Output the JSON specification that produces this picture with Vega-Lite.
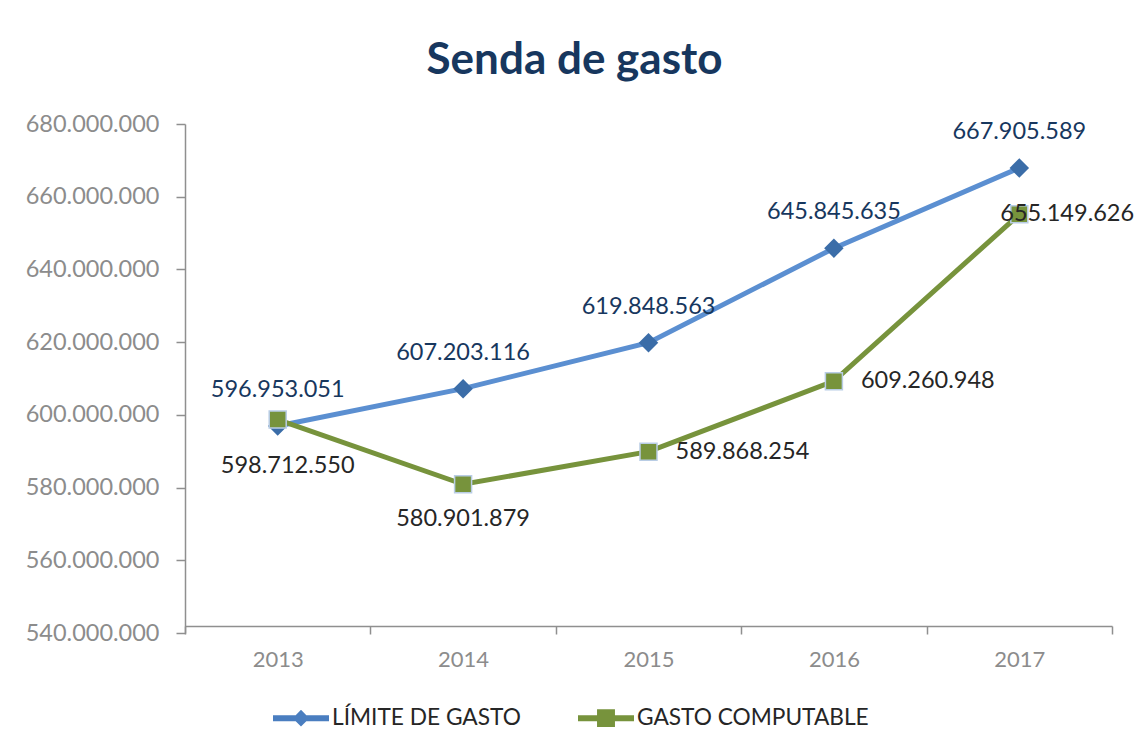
{
  "$schema": "https://vega.github.io/schema/vega-lite/v6.json",
  "autosize": "none",
  "width": 927,
  "height": 509,
  "padding": {"left": 185, "top": 124, "right": 29, "bottom": 118},
  "background": "white",
  "title": {
    "text": "Senda de gasto",
    "font": "Lato",
    "fontSize": 44,
    "fontWeight": "bold",
    "color": "#17375E",
    "anchor": "middle",
    "frame": "group",
    "dx": -74,
    "offset": 29
  },
  "config": {
    "locale": {"number": {"decimal": ",", "thousands": ".", "grouping": [3], "currency": ["", " €"]}},
    "view": {"stroke": null},
    "font": "Lato"
  },
  "data": {
    "values": [
      {"year": "2013", "serie": "LÍMITE DE GASTO", "value": 596953051},
      {"year": "2014", "serie": "LÍMITE DE GASTO", "value": 607203116},
      {"year": "2015", "serie": "LÍMITE DE GASTO", "value": 619848563},
      {"year": "2016", "serie": "LÍMITE DE GASTO", "value": 645845635},
      {"year": "2017", "serie": "LÍMITE DE GASTO", "value": 667905589},
      {"year": "2013", "serie": "GASTO COMPUTABLE", "value": 598712550},
      {"year": "2014", "serie": "GASTO COMPUTABLE", "value": 580901879},
      {"year": "2015", "serie": "GASTO COMPUTABLE", "value": 589868254},
      {"year": "2016", "serie": "GASTO COMPUTABLE", "value": 609260948},
      {"year": "2017", "serie": "GASTO COMPUTABLE", "value": 655149626}
    ]
  },
  "encoding": {
    "x": {
      "field": "year",
      "type": "ordinal",
      "bandPosition": 0.5,
      "scale": {"type": "band", "paddingInner": 0, "paddingOuter": 0},
      "axis": {
        "title": null,
        "labelAngle": 0,
        "tickBand": "extent",
        "tickSize": 8,
        "tickColor": "#8F8F8F",
        "tickWidth": 1.5,
        "domainColor": "#8F8F8F",
        "domainWidth": 1.5,
        "offset": -7,
        "labelFont": "Lato",
        "labelFontSize": 22,
        "labelColor": "#8C8C8C",
        "labelPadding": 15,
        "grid": false
      }
    },
    "y": {
      "field": "value",
      "type": "quantitative",
      "scale": {"domain": [540000000, 680000000], "nice": false, "zero": false},
      "axis": {
        "title": null,
        "values": [540000000, 560000000, 580000000, 600000000, 620000000, 640000000, 660000000, 680000000],
        "format": ",.0f",
        "grid": false,
        "tickSize": 9,
        "tickColor": "#8F8F8F",
        "tickWidth": 1.5,
        "domainColor": "#8F8F8F",
        "domainWidth": 1.5,
        "labelFont": "Lato",
        "labelFontSize": 23.5,
        "labelColor": "#8C8C8C",
        "labelPadding": 17
      }
    }
  },
  "layer": [
    {
      "mark": {"type": "line", "strokeWidth": 5},
      "encoding": {
        "color": {
          "field": "serie",
          "type": "nominal",
          "scale": {"domain": ["LÍMITE DE GASTO", "GASTO COMPUTABLE"], "range": ["#5B8FD1", "#77933C"]},
          "legend": {
            "title": null,
            "orient": "none",
            "direction": "horizontal",
            "legendX": 88,
            "legendY": 566,
            "labelFont": "Lato",
            "labelFontSize": 22.7,
            "labelColor": "#262626",
            "labelLimit": 0,
            "symbolSize": 3136,
            "symbolStrokeWidth": 0,
            "columnPadding": 57,
            "labelOffset": 3,
            "encode": {
              "symbols": {
                "update": {
                  "shape": {"signal": "datum.value === 'LÍMITE DE GASTO' ? 'M-1,-0.107H-0.19L0,-0.3L0.19,-0.107H1V0.107H0.19L0,0.3L-0.19,0.107H-1Z' : 'M-1,-0.107H-0.32V-0.32H0.32V-0.107H1V0.107H0.32V0.32H-0.32V0.107H-1Z'"},
                  "fill": {"signal": "datum.value === 'LÍMITE DE GASTO' ? '#4A7EC0' : '#77933C'"},
                  "strokeWidth": {"value": 0},
                  "size": {"value": 3136}
                }
              }
            }
          }
        }
      }
    },
    {
      "transform": [{"filter": "datum.serie === 'LÍMITE DE GASTO'"}],
      "mark": {"type": "point", "shape": "diamond", "filled": true, "size": 380, "color": "#3B6DA8", "opacity": 1}
    },
    {
      "transform": [{"filter": "datum.serie === 'GASTO COMPUTABLE'"}],
      "mark": {"type": "point", "shape": "square", "filled": true, "size": 289, "color": "#77933C", "stroke": "#B9CDE5", "strokeWidth": 1.5, "opacity": 1}
    },
    {
      "transform": [{"filter": "datum.serie === 'LÍMITE DE GASTO'"}],
      "mark": {"type": "text", "dy": -36, "fontSize": 23.5, "font": "Lato", "color": "#17375E", "baseline": "middle", "align": "center"},
      "encoding": {"text": {"field": "value", "type": "quantitative", "format": ",.0f"}}
    },
    {
      "transform": [{"filter": "datum.serie === 'GASTO COMPUTABLE' && datum.year === '2013'"}],
      "mark": {"type": "text", "dy": 46, "dx": 10, "fontSize": 23.5, "font": "Lato", "color": "#262626", "baseline": "middle", "align": "center"},
      "encoding": {"text": {"field": "value", "type": "quantitative", "format": ",.0f"}}
    },
    {
      "transform": [{"filter": "datum.serie === 'GASTO COMPUTABLE' && datum.year === '2014'"}],
      "mark": {"type": "text", "dy": 35, "fontSize": 23.5, "font": "Lato", "color": "#262626", "baseline": "middle", "align": "center"},
      "encoding": {"text": {"field": "value", "type": "quantitative", "format": ",.0f"}}
    },
    {
      "transform": [{"filter": "datum.serie === 'GASTO COMPUTABLE' && (datum.year === '2015' || datum.year === '2016')"}],
      "mark": {"type": "text", "dx": 27, "fontSize": 23.5, "font": "Lato", "color": "#262626", "baseline": "middle", "align": "left"},
      "encoding": {"text": {"field": "value", "type": "quantitative", "format": ",.0f"}}
    },
    {
      "transform": [{"filter": "datum.serie === 'GASTO COMPUTABLE' && datum.year === '2017'"}],
      "mark": {"type": "text", "dx": -19, "fontSize": 23.5, "font": "Lato", "color": "#262626", "baseline": "middle", "align": "left"},
      "encoding": {"text": {"field": "value", "type": "quantitative", "format": ",.0f"}}
    }
  ]
}
